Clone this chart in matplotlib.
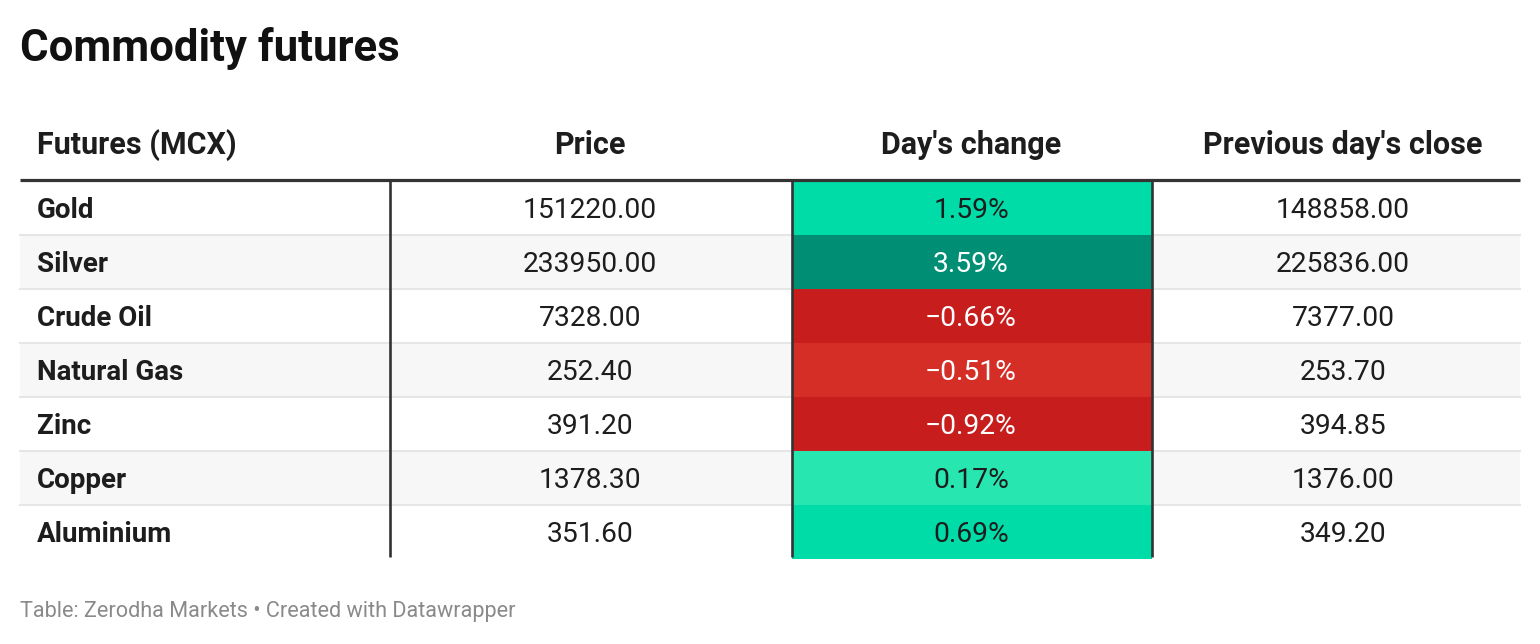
import numpy as np
import matplotlib
matplotlib.use('Agg')
import matplotlib.pyplot as plt
from matplotlib.patches import Rectangle
from matplotlib.colors import to_rgb

plt.rcParams['font.family'] = ['Roboto', 'DejaVu Sans']

# data
title = 'Commodity futures'
columns = ['Futures (MCX)', 'Price', "Day's change", "Previous day's close"]
futures = ['Gold', 'Silver', 'Crude Oil', 'Natural Gas', 'Zinc', 'Copper', 'Aluminium']
price = [151220.00, 233950.00, 7328.00, 252.40, 391.20, 1378.30, 351.60]
day_change = [1.59, 3.59, -0.66, -0.51, -0.92, 0.17, 0.69]
prev_close = [148858.00, 225836.00, 7377.00, 253.70, 394.85, 1376.00, 349.20]
source = 'Table: Zerodha Markets \u2022 Created with Datawrapper'

# colour scale for the day's change column
neg_stops = [-0.6, -0.51]
neg_cols = ['#c71e1d', '#d42e27']
pos_stops = [0.17, 0.5, 2.0, 3.5]
pos_cols = ['#27e6b0', '#00dca8', '#00dca8', '#008f75']


def change_colour(v):
    if v < 0:
        stops, cols = neg_stops, neg_cols
    else:
        stops, cols = pos_stops, pos_cols
    rgb = np.array([to_rgb(c) for c in cols])
    return tuple(np.interp(v, stops, rgb[:, k]) for k in range(3))


def text_colour(rgb):
    lum = 0.299 * rgb[0] + 0.587 * rgb[1] + 0.114 * rgb[2]
    return 'white' if lum < 0.5 else '#1d1d1d'


# layout (pixels)
W, H = 1540, 644
left, right = 20, 1520
head_line = 180
top0 = 181
row_h = 54
col_x = [37, 590, 971, 1343]
col_edges = [390, 792, 1152]
dark = '#333333'
ink = '#1d1d1d'

fig = plt.figure(figsize=(W / 100, H / 100), dpi=100)
ax = fig.add_axes([0, 0, 1, 1])
ax.set_xlim(0, W)
ax.set_ylim(H, 0)
ax.axis('off')

ax.text(20, 61, title, fontsize=31.5, fontweight='bold', color='#111111', va='baseline', ha='left')

for j, c in enumerate(columns):
    ax.text(col_x[j], 154, c, fontsize=22, fontweight='bold', color=ink,
            va='baseline', ha='left' if j == 0 else 'center')

n = len(futures)
bottom = top0 + n * row_h

for i in range(n):
    top = top0 + i * row_h
    if i % 2 == 1:
        ax.add_patch(Rectangle((left, top), right - left, row_h, color='#f7f7f7', lw=0, zorder=0))
    if i > 0:
        ax.plot([left, right], [top, top], color='#e6e6e6', lw=1.5, zorder=1)
    cc = change_colour(day_change[i])
    ax.add_patch(Rectangle((col_edges[1], top), col_edges[2] - col_edges[1], row_h,
                           color=cc, lw=0, zorder=2))
    base = top + 37
    ax.text(col_x[0], base, futures[i], fontsize=20, fontweight='bold', color=ink,
            va='baseline', ha='left', zorder=4)
    ax.text(col_x[1], base, f'{price[i]:.2f}', fontsize=20.3, color=ink,
            va='baseline', ha='center', zorder=4)
    ax.text(col_x[2], base, f'{day_change[i]:.2f}%'.replace('-', '\u2212'), fontsize=20.3,
            color=text_colour(cc), va='baseline', ha='center', zorder=4)
    ax.text(col_x[3], base, f'{prev_close[i]:.2f}', fontsize=20.3, color=ink,
            va='baseline', ha='center', zorder=4)

ax.plot([left, right], [head_line, head_line], color=dark, lw=2.3, zorder=5, solid_capstyle='butt')
for x in col_edges:
    ax.plot([x, x], [top0, bottom - 2], color=dark, lw=1.9, zorder=5, solid_capstyle='butt')

ax.text(20, 617, source, fontsize=15.6, color='#8a8a8a', va='baseline', ha='left')

fig.savefig('out.png', dpi=100)
